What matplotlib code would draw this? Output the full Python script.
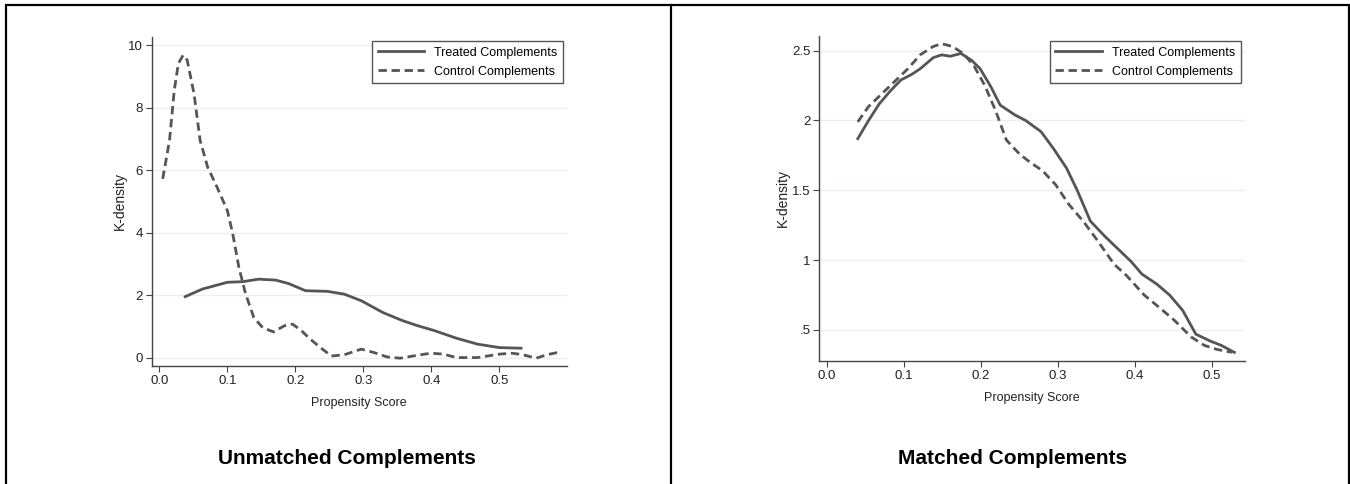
import matplotlib
matplotlib.use("Agg")
import matplotlib.pyplot as plt
from matplotlib.patches import Rectangle
from matplotlib.lines import Line2D

# Data (kernel density curves)
# Unmatched panel
unm_treated_x = [0.038, 0.063, 0.100, 0.123, 0.146, 0.171, 0.190, 0.215, 0.247, 0.272, 0.297,
                 0.329, 0.358, 0.380, 0.405, 0.437, 0.468, 0.500, 0.532]
unm_treated_y = [1.95, 2.19, 2.41, 2.43, 2.51, 2.48, 2.37, 2.14, 2.12, 2.03, 1.82,
                 1.44, 1.18, 1.02, 0.86, 0.62, 0.43, 0.32, 0.30]
unm_control_x = [0.005, 0.015, 0.022, 0.028, 0.035, 0.041, 0.051, 0.060, 0.071, 0.085, 0.100,
                 0.108, 0.117, 0.127, 0.139, 0.152, 0.168, 0.184, 0.196, 0.209, 0.222, 0.237,
                 0.253, 0.272, 0.297, 0.316, 0.335, 0.354, 0.373, 0.399, 0.418, 0.437, 0.468,
                 0.500, 0.519, 0.535, 0.554, 0.570, 0.585]
unm_control_y = [5.72, 6.95, 8.56, 9.41, 9.68, 9.52, 8.45, 6.95, 6.10, 5.45, 4.71,
                 3.96, 2.89, 2.03, 1.28, 0.96, 0.82, 1.02, 1.07, 0.86, 0.59, 0.32,
                 0.05, 0.09, 0.27, 0.16, 0.02, -0.02, 0.05, 0.14, 0.11, 0.00, 0.00,
                 0.11, 0.14, 0.09, -0.02, 0.09, 0.16]

# Matched panel
mat_treated_x = [0.040, 0.054, 0.068, 0.082, 0.096, 0.110, 0.121, 0.138, 0.149, 0.160, 0.174,
                 0.188, 0.199, 0.213, 0.225, 0.244, 0.258, 0.278, 0.294, 0.311, 0.325, 0.342,
                 0.361, 0.378, 0.395, 0.409, 0.428, 0.445, 0.462, 0.479, 0.498, 0.512, 0.529]
mat_treated_y = [1.87, 2.00, 2.12, 2.21, 2.29, 2.33, 2.37, 2.45, 2.47, 2.46, 2.48,
                 2.43, 2.37, 2.24, 2.11, 2.04, 2.00, 1.92, 1.80, 1.66, 1.50, 1.28,
                 1.17, 1.08, 0.99, 0.90, 0.83, 0.75, 0.64, 0.47, 0.42, 0.39, 0.34]
mat_control_x = [0.040, 0.054, 0.071, 0.088, 0.105, 0.121, 0.138, 0.149, 0.163, 0.177, 0.191,
                 0.205, 0.219, 0.233, 0.250, 0.264, 0.280, 0.297, 0.314, 0.334, 0.350, 0.373,
                 0.389, 0.412, 0.434, 0.451, 0.473, 0.490, 0.507, 0.526]
mat_control_y = [1.99, 2.10, 2.19, 2.28, 2.37, 2.47, 2.53, 2.55, 2.53, 2.48, 2.39,
                 2.25, 2.07, 1.86, 1.76, 1.70, 1.64, 1.54, 1.40, 1.27, 1.15, 0.97,
                 0.89, 0.75, 0.65, 0.57, 0.45, 0.39, 0.36, 0.34]

series_labels = ["Treated Complements", "Control Complements"]
x_ticks = [0.0, 0.1, 0.2, 0.3, 0.4, 0.5]
unm_y_ticks = [0, 2, 4, 6, 8, 10]
mat_y_ticks = [0.5, 1.0, 1.5, 2.0, 2.5]
mat_y_labels = [".5", "1", "1.5", "2", "2.5"]

# Style
plt.rcParams['font.family'] = ['Liberation Sans', 'DejaVu Sans']
lineColor = "#555555"
gridColor = "#e8f0f2"
lineWidth = 2.0
dashStyle = (0, (3.0, 1.7))

W, H = 1350, 484
fig = plt.figure(figsize=(W / 100.0, H / 100.0), dpi=100, facecolor='w')

def figbox(x0, y0, x1, y1):
    # pixel box (top-left origin) -> figure fraction rect
    return [x0 / W, 1 - y1 / H, (x1 - x0) / W, (y1 - y0) / H]

def style_axes(ax):
    for s in ['top', 'right']:
        ax.spines[s].set_visible(False)
    for s in ['left', 'bottom']:
        ax.spines[s].set_color("#444444")
        ax.spines[s].set_linewidth(1.0)
    ax.tick_params(direction='out', length=4, width=0.8, color="#444444",
                   labelsize=9.5, labelcolor="#222222", pad=2)
    ax.tick_params(axis='x', pad=3)
    ax.yaxis.grid(True, color=gridColor, linewidth=1.0)
    ax.xaxis.grid(False)
    ax.set_axisbelow(True)

def add_legend(ax, right_px, top_px):
    handles = [Line2D([], [], color=lineColor, lw=lineWidth),
               Line2D([], [], color=lineColor, lw=lineWidth, linestyle=dashStyle)]
    leg = ax.legend(handles, series_labels, loc='upper right',
                    bbox_to_anchor=(right_px / W, 1 - top_px / H), bbox_transform=fig.transFigure,
                    fontsize=9, frameon=True, fancybox=False, framealpha=1,
                    edgecolor="#555555", handlelength=3.7, handletextpad=0.8,
                    labelspacing=0.55, borderpad=0.45, borderaxespad=0)
    leg.get_frame().set_linewidth(1.0)
    return leg

# Left panel
ax1 = fig.add_axes(figbox(151.5, 36.7, 567, 365.7))
style_axes(ax1)
ax1.plot(unm_treated_x, unm_treated_y, color=lineColor, lw=lineWidth, solid_joinstyle='round')
ax1.plot(unm_control_x, unm_control_y, color=lineColor, lw=lineWidth, linestyle=dashStyle)
ax1.set_xlim(-0.0115, 0.5996)
ax1.set_ylim(-0.26, 10.27)
ax1.set_xticks(x_ticks)
ax1.set_xticklabels(["%.1f" % v for v in x_ticks])
ax1.set_yticks(unm_y_ticks)
ax1.set_xlabel("Propensity Score", fontsize=9, color="#222222")
ax1.xaxis.set_label_coords(0.5, -0.113)
ax1.get_xaxis().label.set_va('center')
ax1.set_ylabel("K-density", fontsize=10, color="#222222")
ax1.yaxis.set_label_coords(-0.077, 0.5)
ax1.get_yaxis().label.set_va('center')
add_legend(ax1, 563, 41)

# Right panel
ax2 = fig.add_axes(figbox(819.2, 36, 1245.4, 360.7))
style_axes(ax2)
ax2.plot(mat_treated_x, mat_treated_y, color=lineColor, lw=lineWidth, solid_joinstyle='round')
ax2.plot(mat_control_x, mat_control_y, color=lineColor, lw=lineWidth, linestyle=dashStyle)
ax2.set_xlim(-0.0101, 0.5434)
ax2.set_ylim(0.28, 2.605)
ax2.set_xticks(x_ticks)
ax2.set_xticklabels(["%.1f" % v for v in x_ticks])
ax2.set_yticks(mat_y_ticks)
ax2.set_yticklabels(mat_y_labels)
ax2.set_xlabel("Propensity Score", fontsize=9, color="#222222")
ax2.xaxis.set_label_coords(0.5, -0.114)
ax2.get_xaxis().label.set_va('center')
ax2.set_ylabel("K-density", fontsize=10, color="#222222")
ax2.yaxis.set_label_coords(-0.085, 0.5)
ax2.get_yaxis().label.set_va('center')
add_legend(ax2, 1240.6, 41)

# Panel titles
fig.text(347 / W, 1 - 464 / H, "Unmatched Complements", ha='center', va='baseline',
         fontsize=15, fontweight='bold', color='black')
fig.text(1013 / W, 1 - 464 / H, "Matched Complements", ha='center', va='baseline',
         fontsize=15, fontweight='bold', color='black')

# Outer frame and divider
lw_px = 2.2
fig.add_artist(Rectangle((6 / W, -0.01), (1349 - 6) / W, (1 - 5 / H) + 0.01,
                         transform=fig.transFigure, fill=False, edgecolor='black',
                         linewidth=lw_px * 0.72))
fig.add_artist(Line2D([671 / W, 671 / W], [0, 1 - 5 / H], transform=fig.transFigure,
                      color='black', linewidth=lw_px * 0.72))

fig.savefig("out.png", dpi=100, facecolor='w')
